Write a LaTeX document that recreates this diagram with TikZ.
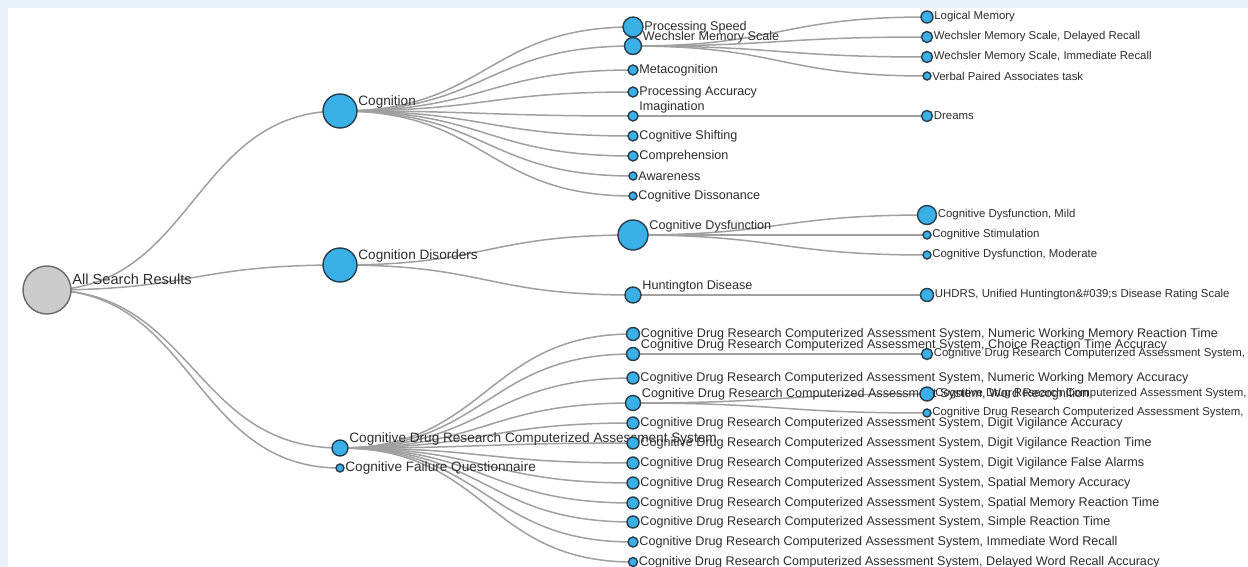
\documentclass[tikz,border=0pt]{standalone}
\usepackage{fontspec}
\setmainfont{Liberation Sans}
\usetikzlibrary{backgrounds}
\definecolor{fondbleu}{RGB}{232,241,249}
\definecolor{ballblue}{RGB}{58,176,230}
\definecolor{balledge}{RGB}{38,62,78}
\definecolor{rootgray}{RGB}{204,204,204}
\definecolor{rootedge}{RGB}{105,105,105}
\definecolor{linkgray}{RGB}{160,160,160}
\definecolor{txtgray}{RGB}{45,45,45}
\begin{document}
\begin{tikzpicture}[x=0.5pt,y=-0.5pt]
			\tikzstyle{link}=[draw=linkgray,line width=0.75pt]
			\tikzstyle{ball}=[circle,inner sep=0pt,outer sep=0pt,fill=ballblue,draw=balledge,line width=0.7pt]
			\tikzstyle{rootball}=[ball,fill=rootgray,draw=rootedge]
			\tikzstyle{labA}=[text=txtgray,inner sep=0pt,label distance=0.5pt,font=\fontsize{7.3}{8}\selectfont]
			\tikzstyle{labB}=[labA,font=\fontsize{6.8}{7}\selectfont]
			\tikzstyle{labC}=[labA,font=\fontsize{6.3}{7}\selectfont]
			\tikzstyle{labD}=[labA,font=\fontsize{5.7}{6}\selectfont]
			\tikzstyle{raised}=[yshift=4.5pt]
			\def\LevelA{47}
			\def\LevelB{340}
			\def\LevelC{633}
			\def\LevelD{927}
			\def\HalfGap{147}
			\def\CDR{Cognitive Drug Research Computerized Assessment System}
			\useasboundingbox (0,0) rectangle (1248,567);
			\clip (0,0) rectangle (1248,567);
			% root and first level
			\node[rootball,minimum size=24pt,label={[labA,yshift=5.5pt]east:All Search Results}] (R) at (\LevelA,290) {};
			\node[ball,minimum size=17pt,label={[labB,raised]east:Cognition}] (Ra) at (\LevelB,111) {};
			\node[ball,minimum size=17pt,label={[labB,raised]east:Cognition Disorders}] (Rb) at (\LevelB,265) {};
			\node[ball,minimum size=8pt,label={[labB,raised]east:\CDR}] (Rc) at (\LevelB,448) {};
			\node[ball,minimum size=4pt,label={[labB]east:Cognitive Failure Questionnaire}] (Rd) at (\LevelB,468) {};
			% second level
			\node[ball,minimum size=10pt,label={[labC]east:Processing Speed}] (Raa) at (\LevelC,27) {};
			\node[ball,minimum size=8.5pt,label={[labC,raised]east:Wechsler Memory Scale}] (Rab) at (\LevelC,46) {};
			\node[ball,minimum size=5pt,label={[labC]east:Metacognition}] (Rac) at (\LevelC,70) {};
			\node[ball,minimum size=5pt,label={[labC]east:Processing Accuracy}] (Rad) at (\LevelC,92) {};
			\node[ball,minimum size=5pt,label={[labC,raised]east:Imagination}] (Rae) at (\LevelC,116) {};
			\node[ball,minimum size=5pt,label={[labC]east:Cognitive Shifting}] (Raf) at (\LevelC,136) {};
			\node[ball,minimum size=5pt,label={[labC]east:Comprehension}] (Rag) at (\LevelC,156) {};
			\node[ball,minimum size=4pt,label={[labC]east:Awareness}] (Rah) at (\LevelC,176) {};
			\node[ball,minimum size=4pt,label={[labC]east:Cognitive Dissonance}] (Rai) at (\LevelC,196) {};
			\node[ball,minimum size=15pt,label={[labC,raised]east:Cognitive Dysfunction}] (Rba) at (\LevelC,235) {};
			\node[ball,minimum size=8pt,label={[labC,raised]east:Huntington Disease}] (Rbb) at (\LevelC,295) {};
			\node[ball,minimum size=6.5pt,label={[labC]east:\CDR, Numeric Working Memory Reaction Time}] (Rca) at (\LevelC,334) {};
			\node[ball,minimum size=6.5pt,label={[labC,raised]east:\CDR, Choice Reaction Time Accuracy}] (Rcb) at (\LevelC,354) {};
			\node[ball,minimum size=6pt,label={[labC]east:\CDR, Numeric Working Memory Accuracy}] (Rcc) at (\LevelC,378) {};
			\node[ball,minimum size=7.5pt,label={[labC,raised]east:\CDR, Word Recognition}] (Rcd) at (\LevelC,403) {};
			\node[ball,minimum size=6pt,label={[labC]east:\CDR, Digit Vigilance Accuracy}] (Rce) at (\LevelC,423) {};
			\node[ball,minimum size=6pt,label={[labC]east:\CDR, Digit Vigilance Reaction Time}] (Rcf) at (\LevelC,443) {};
			\node[ball,minimum size=6pt,label={[labC]east:\CDR, Digit Vigilance False Alarms}] (Rcg) at (\LevelC,463) {};
			\node[ball,minimum size=6pt,label={[labC]east:\CDR, Spatial Memory Accuracy}] (Rch) at (\LevelC,483) {};
			\node[ball,minimum size=6pt,label={[labC]east:\CDR, Spatial Memory Reaction Time}] (Rci) at (\LevelC,503) {};
			\node[ball,minimum size=6pt,label={[labC]east:\CDR, Simple Reaction Time}] (Rcj) at (\LevelC,522) {};
			\node[ball,minimum size=5pt,label={[labC]east:\CDR, Immediate Word Recall}] (Rck) at (\LevelC,542) {};
			\node[ball,minimum size=4.5pt,label={[labC]east:\CDR, Delayed Word Recall Accuracy}] (Rcl) at (\LevelC,562) {};
			% third level
			\node[ball,minimum size=6pt,label={[labD]east:Logical Memory}] (Raba) at (\LevelD,17) {};
			\node[ball,minimum size=5.5pt,label={[labD]east:Wechsler Memory Scale, Delayed Recall}] (Rabb) at (\LevelD,37) {};
			\node[ball,minimum size=5.5pt,label={[labD]east:Wechsler Memory Scale, Immediate Recall}] (Rabc) at (\LevelD,57) {};
			\node[ball,minimum size=4pt,label={[labD]east:Verbal Paired Associates task}] (Rabd) at (\LevelD,76) {};
			\node[ball,minimum size=5.5pt,label={[labD]east:Dreams}] (Raea) at (\LevelD,116) {};
			\node[ball,minimum size=9.5pt,label={[labD]east:Cognitive Dysfunction, Mild}] (Rbaa) at (\LevelD,215) {};
			\node[ball,minimum size=4pt,label={[labD]east:Cognitive Stimulation}] (Rbab) at (\LevelD,235) {};
			\node[ball,minimum size=4pt,label={[labD]east:Cognitive Dysfunction, Moderate}] (Rbac) at (\LevelD,255) {};
			\node[ball,minimum size=6.5pt,label={[labD]east:UHDRS, Unified Huntington\&\#039;s Disease Rating Scale}] (Rbba) at (\LevelD,295) {};
			\node[ball,minimum size=5.5pt,label={[labD]east:\CDR,}] (Rcba) at (\LevelD,354) {};
			\node[ball,minimum size=7pt,label={[labD]east:\CDR,}] (Rcda) at (\LevelD,394) {};
			\node[ball,minimum size=4pt,label={[labD]east:\CDR,}] (Rcdb) at (\LevelD,413) {};
			% frame and links, under the balls
			\begin{scope}[on background layer]
			\fill[fondbleu] (0,0) rectangle (1248,567);
			\fill[white] (8,8) rectangle (1248,567);
			\foreach \a/\b in {R/Ra,R/Rb,R/Rc,R/Rd,
				Ra/Raa,Ra/Rab,Ra/Rac,Ra/Rad,Ra/Rae,Ra/Raf,Ra/Rag,Ra/Rah,Ra/Rai,
				Rb/Rba,Rb/Rbb,
				Rc/Rca,Rc/Rcb,Rc/Rcc,Rc/Rcd,Rc/Rce,Rc/Rcf,Rc/Rcg,Rc/Rch,Rc/Rci,Rc/Rcj,Rc/Rck,Rc/Rcl,
				Rab/Raba,Rab/Rabb,Rab/Rabc,Rab/Rabd,Rae/Raea,
				Rba/Rbaa,Rba/Rbab,Rba/Rbac,Rbb/Rbba,
				Rcb/Rcba,Rcd/Rcda,Rcd/Rcdb}
				\draw[link] (\a.center) .. controls +(\HalfGap,0) and +(-\HalfGap,0) .. (\b.center);
			\end{scope}
		\end{tikzpicture}
\end{document}
